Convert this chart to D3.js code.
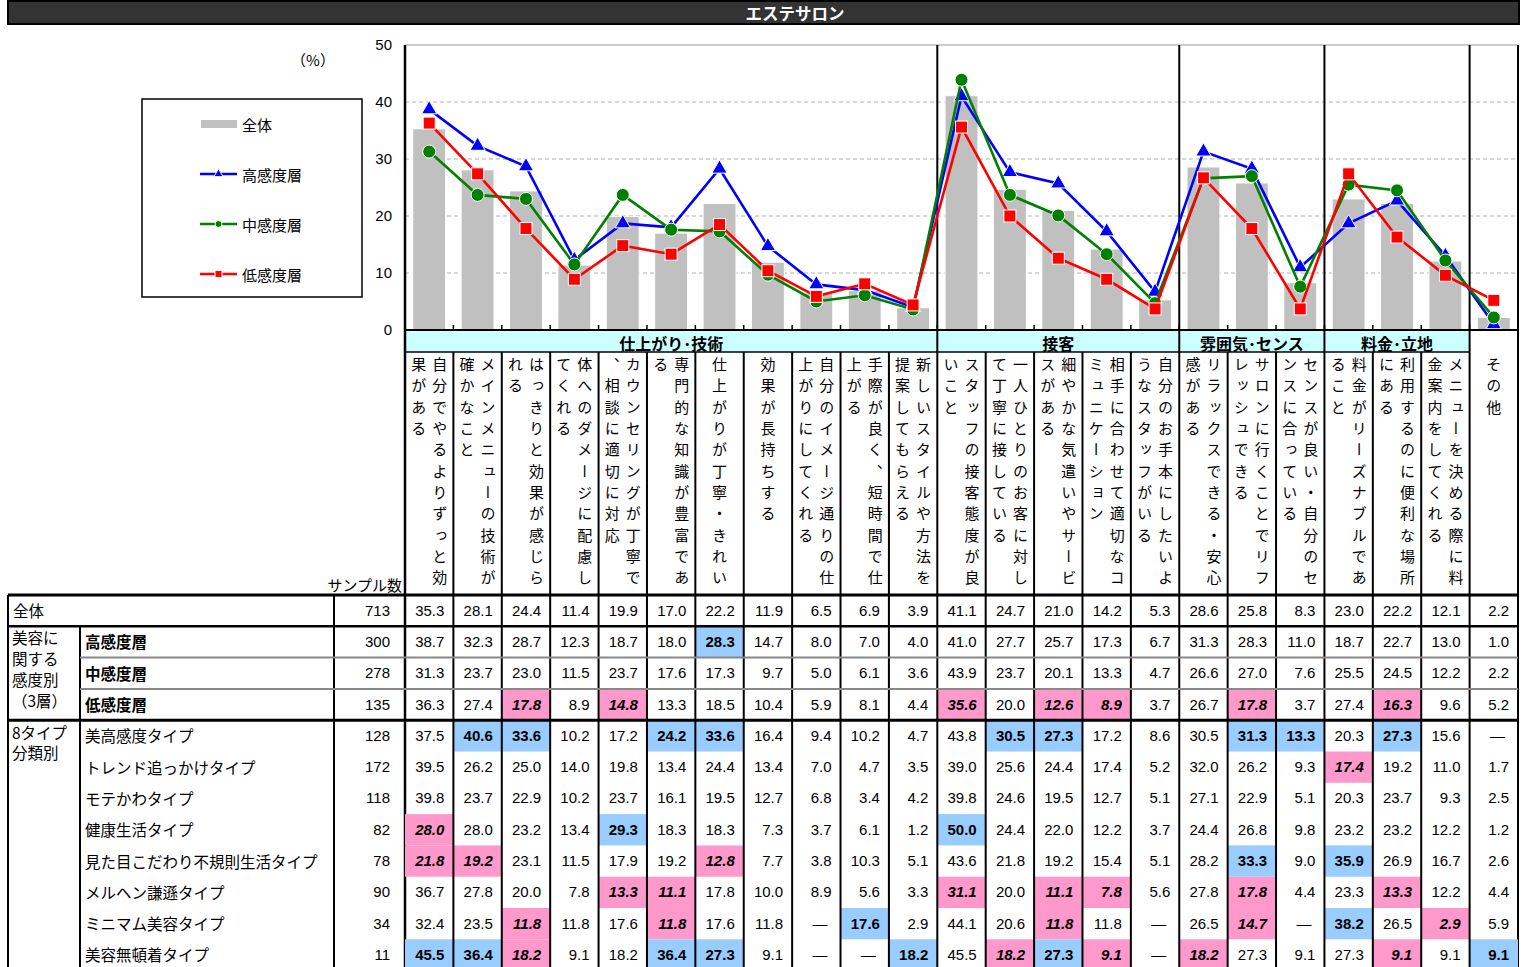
<!DOCTYPE html>
<html><head><meta charset="utf-8">
<script src="https://cdn.jsdelivr.net/npm/d3@7"></script>
<style>
body{margin:0;background:#fff}
svg text{font-family:"Noto Sans CJK JP","Noto Sans",sans-serif;fill:#000}
.num{font-family:"Liberation Sans",Arial,sans-serif}
</style>
</head><body><svg id="c" width="1525" height="967"></svg>
<script>
// ---------------- DATA ----------------
const title = "エステサロン";
const categories = [
  "自分でやるよりずっと効果がある","メインメニューの技術が確かなこと","はっきりと効果が感じられる",
  "体へのダメージに配慮してくれる","カウンセリングが丁寧で、相談に適切に対応","専門的な知識が豊富である",
  "仕上がりが丁寧・きれい","効果が長持ちする","自分のイメージ通りの仕上がりにしてくれる",
  "手際が良く、短時間で仕上がる","新しいスタイルや方法を提案してもらえる",
  "スタッフの接客態度が良いこと","一人ひとりのお客に対して丁寧に接している","細やかな気遣いやサービスがある",
  "相手に合わせて適切なコミュニケーション","自分のお手本にしたいようなスタッフがいる",
  "リラックスできる・安心感がある","サロンに行くことでリフレッシュできる","センスが良い・自分のセンスに合っている",
  "料金がリーズナブルであること","利用するのに便利な場所にある","メニューを決める際に料金案内をしてくれる",
  "その他"
];
const groupNames = ["仕上がり･技術","接客","雰囲気･センス","料金･立地",""];
const groupSizes = [11,5,3,3,1];
const yTicks = [0,10,20,30,40,50];
const seriesNames = ["全体","高感度層","中感度層","低感度層"];

const total = [35.3,28.1,24.4,11.4,19.9,17.0,22.2,11.9,6.5,6.9,3.9,41.1,24.7,21.0,14.2,5.3,28.6,25.8,8.3,23.0,22.2,12.1,2.2];
const high  = [38.7,32.3,28.7,12.3,18.7,18.0,28.3,14.7,8.0,7.0,4.0,41.0,27.7,25.7,17.3,6.7,31.3,28.3,11.0,18.7,22.7,13.0,1.0];
const mid   = [31.3,23.7,23.0,11.5,23.7,17.6,17.3,9.7,5.0,6.1,3.6,43.9,23.7,20.1,13.3,4.7,26.6,27.0,7.6,25.5,24.5,12.2,2.2];
const low   = [36.3,27.4,17.8,8.9,14.8,13.3,18.5,10.4,5.9,8.1,4.4,35.6,20.0,12.6,8.9,3.7,26.7,17.8,3.7,27.4,16.3,9.6,5.2];
const typeBiKoukando = [37.5,40.6,33.6,10.2,17.2,24.2,33.6,16.4,9.4,10.2,4.7,43.8,30.5,27.3,17.2,8.6,30.5,31.3,13.3,20.3,27.3,15.6,null];
const typeTrend      = [39.5,26.2,25.0,14.0,19.8,13.4,24.4,13.4,7.0,4.7,3.5,39.0,25.6,24.4,17.4,5.2,32.0,26.2,9.3,17.4,19.2,11.0,1.7];
const typeMotekawa   = [39.8,23.7,22.9,10.2,23.7,16.1,19.5,12.7,6.8,3.4,4.2,39.8,24.6,19.5,12.7,5.1,27.1,22.9,5.1,20.3,23.7,9.3,2.5];
const typeKenkou     = [28.0,28.0,23.2,13.4,29.3,18.3,18.3,7.3,3.7,6.1,1.2,50.0,24.4,22.0,12.2,3.7,24.4,26.8,9.8,23.2,23.2,12.2,1.2];
const typeMitame     = [21.8,19.2,23.1,11.5,17.9,19.2,12.8,7.7,3.8,10.3,5.1,43.6,21.8,19.2,15.4,5.1,28.2,33.3,9.0,35.9,26.9,16.7,2.6];
const typeMeruhen    = [36.7,27.8,20.0,7.8,13.3,11.1,17.8,10.0,8.9,5.6,3.3,31.1,20.0,11.1,7.8,5.6,27.8,17.8,4.4,23.3,13.3,12.2,4.4];
const typeMinimum    = [32.4,23.5,11.8,11.8,17.6,11.8,17.6,11.8,null,17.6,2.9,44.1,20.6,11.8,11.8,null,26.5,14.7,null,38.2,26.5,2.9,5.9];
const typeMutonjaku  = [45.5,36.4,18.2,9.1,18.2,36.4,27.3,9.1,null,null,18.2,45.5,18.2,27.3,9.1,null,18.2,27.3,9.1,27.3,9.1,9.1,9.1];

const rowLabels = ["全体","高感度層","中感度層","低感度層","美高感度タイプ","トレンド追っかけタイプ","モテかわタイプ",
  "健康生活タイプ","見た目こだわり不規則生活タイプ","メルヘン謙遜タイプ","ミニマム美容タイプ","美容無頓着タイプ"];
const sampleSizes = [713,300,278,135,128,172,118,82,78,90,34,11];
const rowValues = [total,high,mid,low,typeBiKoukando,typeTrend,typeMotekawa,typeKenkou,typeMitame,typeMeruhen,typeMinimum,typeMutonjaku];
// highlighted cells (column indexes): higher (blue) / lower (pink)
const highCells = [[],[6],[],[],[1,2,5,6,12,13,17,18,20],[],[],[4,11],[17,19],[],[9,19],[0,1,5,6,10,13,22]];
const lowCells  = [[],[],[],[2,4,11,13,14,17,20],[],[19],[],[0],[0,1,6],[4,5,11,13,14,17,20],[2,5,13,17,21],[2,12,14,16,20]];
const groupLabel1 = ["美容に","関する","感度別","（3層）"];
const groupLabel2 = ["8タイプ","分類別"];

// ---------------- LAYOUT ----------------
const svg = d3.select("#c");
const X0 = 405, X1 = 1518, YT = 45, YB = 330;
const n = categories.length;
const x = d3.scaleBand().domain(d3.range(n)).range([X0, X1]).paddingInner(0.32).paddingOuter(0.16);
const step = x.step();
const cx = i => x(i) + x.bandwidth()/2;
const bnd = i => X0 + i*step;
const y = d3.scaleLinear().domain([0,50]).range([YB, YT]);

const HEAD_T = 331, HEAD_B = 352, LAB_B = 594;
const TAB_T = 595, ROW_H = 31.3;
const rowTop = i => TAB_T + i*ROW_H;

// title
svg.append("rect").attr("x",8).attr("y",1).attr("width",1511).attr("height",23)
  .attr("fill","#333").attr("stroke","#000").attr("stroke-width",2);
svg.append("text").attr("x",795).attr("y",13).attr("text-anchor","middle").attr("dominant-baseline","central")
  .style("font-size","16.5px").style("font-weight","bold").style("fill","#fff").text(title);

// chart frame
svg.append("rect").attr("x",X0).attr("y",YT).attr("width",X1-X0).attr("height",YB-YT)
  .attr("fill","#fff").attr("stroke","#999").attr("stroke-width",1);

// grid
svg.append("g").selectAll("line").data(yTicks.filter(d=>d>0&&d<50)).join("line")
  .attr("x1",X0).attr("x2",X1).attr("y1",d=>y(d)).attr("y2",d=>y(d))
  .attr("stroke","#b0b0b0").attr("stroke-dasharray","4,3").attr("stroke-width",1);

// y axis
const yAxis = svg.append("g").attr("transform",`translate(${X0},0)`)
  .call(d3.axisLeft(y).tickValues(yTicks).tickSize(0).tickPadding(13));
yAxis.select(".domain").remove();
yAxis.selectAll("text").attr("class","num").style("font-size","15px").style("font-family","'Liberation Sans',Arial,sans-serif");
svg.append("text").attr("x",313).attr("y",59).attr("text-anchor","middle").attr("dominant-baseline","central")
  .style("font-size","15px").text("（%）");

// bars
svg.append("g").selectAll("rect").data(total).join("rect")
  .attr("x",(d,i)=>x(i)).attr("width",x.bandwidth())
  .attr("y",d=>y(d)).attr("height",d=>y(0)-y(d))
  .attr("fill","#c0c0c0").attr("stroke","#fff").attr("stroke-width",1);

// bottom ticks
svg.append("g").selectAll("line").data(d3.range(1,n)).join("line")
  .attr("x1",i=>bnd(i)).attr("x2",i=>bnd(i)).attr("y1",YB).attr("y2",YB-5)
  .attr("stroke","#000").attr("stroke-width",1.5);

// group boundaries
const groupEnds = d3.cumsum(groupSizes);
svg.append("g").selectAll("line").data(Array.from(groupEnds).slice(0,-1)).join("line")
  .attr("x1",e=>bnd(e)).attr("x2",e=>bnd(e)).attr("y1",YT).attr("y2",YB)
  .attr("stroke","#000").attr("stroke-width",2);

// axis lines
svg.append("line").attr("x1",X0).attr("x2",X0).attr("y1",YT).attr("y2",HEAD_T).attr("stroke","#000").attr("stroke-width",2.5);

// lines + markers
const series = [
  {name:"高感度層", vals:high, color:"#0000ff", shape:"tri"},
  {name:"中感度層", vals:mid,  color:"#008000", shape:"circle"},
  {name:"低感度層", vals:low,  color:"#ff0000", shape:"square"}
];
function marker(g, shape, color, px, py, s){
  if(shape==="tri"){
    g.append("path").attr("d",d3.symbol(d3.symbolTriangle, s*s*0.45)())
      .attr("transform",`translate(${px},${py})`).attr("fill",color).attr("stroke","#fff").attr("stroke-width",1);
  } else if(shape==="circle"){
    g.append("circle").attr("cx",px).attr("cy",py).attr("r",s/2).attr("fill",color).attr("stroke","#fff").attr("stroke-width",1);
  } else {
    g.append("rect").attr("x",px-s/2).attr("y",py-s/2).attr("width",s).attr("height",s).attr("fill",color).attr("stroke","#fff").attr("stroke-width",1);
  }
}
const line = d3.line().x((d,i)=>cx(i)).y(d=>y(d));
series.forEach(s=>{
  const g = svg.append("g");
  g.append("path").datum(s.vals).attr("d",line).attr("fill","none").attr("stroke",s.color).attr("stroke-width",2.6);
  s.vals.forEach((v,i)=>marker(g,s.shape,s.color,cx(i),y(v),s.shape==="square"?12:(s.shape==="circle"?13:15)));
});

// legend
const lg = svg.append("g");
lg.append("rect").attr("x",142).attr("y",99).attr("width",220).attr("height",198).attr("fill","#fff").attr("stroke","#000").attr("stroke-width",1.5);
const legY = [124,174,224,274];
lg.append("rect").attr("x",201).attr("y",legY[0]-4).attr("width",36).attr("height",8).attr("fill","#c0c0c0");
series.forEach((s,k)=>{
  const ly = legY[k+1];
  lg.append("line").attr("x1",200).attr("x2",237).attr("y1",ly).attr("y2",ly).attr("stroke",s.color).attr("stroke-width",2.5);
  marker(lg,s.shape,s.color,218.5,ly,s.shape==="tri"?9:7);
});
seriesNames.forEach((nm,k)=>{
  lg.append("text").attr("x",242).attr("y",legY[k]).attr("dominant-baseline","central").style("font-size","15px").text(nm);
});

// ---------------- HEADER (group row + vertical labels) ----------------
const groupStarts = [0, ...Array.from(groupEnds).slice(0,-1)];
groupNames.forEach((g,k)=>{
  if(!g) return;
  const a = bnd(groupStarts[k]), b = bnd(groupEnds[k]);
  svg.append("rect").attr("x",a).attr("y",HEAD_T).attr("width",b-a).attr("height",HEAD_B-HEAD_T).attr("fill","#ccffff");
  svg.append("text").attr("x",(a+b)/2).attr("y",(HEAD_T+HEAD_B)/2+1).attr("text-anchor","middle").attr("dominant-baseline","central")
    .style("font-size","16px").style("font-weight","bold").text(g);
});
// x axis line
svg.append("line").attr("x1",X0).attr("x2",X1).attr("y1",YB).attr("y2",YB).attr("stroke","#000").attr("stroke-width",2);
svg.append("line").attr("x1",X0).attr("x2",bnd(groupEnds[groupEnds.length-2])).attr("y1",HEAD_B).attr("y2",HEAD_B).attr("stroke","#000").attr("stroke-width",1.5);
// column lines in label area
svg.append("g").selectAll("line").data(d3.range(1,n)).join("line")
  .attr("x1",i=>bnd(i)).attr("x2",i=>bnd(i)).attr("y1",HEAD_B).attr("y2",LAB_B)
  .attr("stroke","#000").attr("stroke-width",2);
svg.append("g").selectAll("line").data(Array.from(groupEnds).slice(0,-1)).join("line")
  .attr("x1",e=>bnd(e)).attr("x2",e=>bnd(e)).attr("y1",YB).attr("y2",HEAD_B)
  .attr("stroke","#000").attr("stroke-width",2);
svg.append("line").attr("x1",X1).attr("x2",X1).attr("y1",YT).attr("y2",967).attr("stroke","#000").attr("stroke-width",2);
svg.append("line").attr("x1",X0).attr("x2",X0).attr("y1",HEAD_T).attr("y2",967).attr("stroke","#000").attr("stroke-width",2.5);

// vertical category labels
const PER = 11;
categories.forEach((c,i)=>{
  const chars = Array.from(c);
  const lines = [];
  for(let k=0;k<chars.length;k+=PER) lines.push(chars.slice(k,k+PER).join(""));
  lines.forEach((ln,j)=>{
    const off = lines.length===1 ? 0 : (j===0 ? 10.5 : -10.5);
    svg.append("text").attr("x",cx(i)+off).attr("y",357)
      .style("writing-mode","vertical-rl").style("font-size","15px").style("letter-spacing","6.3px")
      .text(ln);
  });
});

svg.append("text").attr("x",402).attr("y",584).attr("text-anchor","end").attr("dominant-baseline","central")
  .style("font-size","15px").text("サンプル数");

// ---------------- TABLE ----------------
const tg = svg.append("g");
// highlight cells
rowValues.forEach((vals,r)=>{
  highCells[r].forEach(c=>tg.append("rect").attr("x",bnd(c)).attr("y",rowTop(r)).attr("width",step).attr("height",ROW_H).attr("fill","#99ccff"));
  lowCells[r].forEach(c=>tg.append("rect").attr("x",bnd(c)).attr("y",rowTop(r)).attr("width",step).attr("height",ROW_H).attr("fill","#ff99cc"));
});
// values
rowValues.forEach((vals,r)=>{
  const cy = rowTop(r)+ROW_H/2-0.5;
  vals.forEach((v,c)=>{
    const isH = highCells[r].includes(c), isL = lowCells[r].includes(c);
    const t = tg.append("text").attr("class","num")
      .attr("x", v===null ? bnd(c+1)-13 : bnd(c+1)-9)
      .attr("y",cy).attr("text-anchor","end").attr("dominant-baseline","central")
      .style("font-size","15px").style("font-family","'Liberation Sans',Arial,sans-serif")
      .text(v===null ? "—" : v.toFixed(1));
    if(isH||isL) t.style("font-weight","bold");
    if(isL) t.style("font-style","italic");
  });
  tg.append("text").attr("class","num").attr("x",390).attr("y",cy).attr("text-anchor","end")
    .attr("dominant-baseline","central").style("font-size","15px").style("font-family","'Liberation Sans',Arial,sans-serif")
    .text(sampleSizes[r]);
  const lt = tg.append("text").attr("x", r===0 ? 13 : 85).attr("y",cy).attr("dominant-baseline","central")
    .style("font-size","15.5px").text(rowLabels[r]);
  if(r>=1 && r<=3) lt.style("font-weight","bold");
});
groupLabel1.forEach((t,k)=>tg.append("text").attr("x",12).attr("y",rowTop(1)+11+k*21).attr("dominant-baseline","central").style("font-size","15.5px").text(t));
groupLabel2.forEach((t,k)=>tg.append("text").attr("x",12).attr("y",rowTop(4)+12+k*20).attr("dominant-baseline","central").style("font-size","15.5px").text(t));

// table lines
const colXs = d3.range(1,n).map(bnd);
tg.selectAll("line.col").data(colXs).join("line")
  .attr("x1",d=>d).attr("x2",d=>d).attr("y1",TAB_T).attr("y2",967).attr("stroke","#000").attr("stroke-width",2);
tg.append("line").attr("x1",334).attr("x2",334).attr("y1",TAB_T).attr("y2",967).attr("stroke","#000").attr("stroke-width",2);
tg.append("line").attr("x1",80).attr("x2",80).attr("y1",rowTop(1)).attr("y2",967).attr("stroke","#000").attr("stroke-width",2);
tg.append("line").attr("x1",8).attr("x2",8).attr("y1",TAB_T).attr("y2",967).attr("stroke","#000").attr("stroke-width",2);
[rowTop(0),rowTop(1),rowTop(4)].forEach((yy,k)=>tg.append("line").attr("x1",8).attr("x2",X1+1).attr("y1",yy).attr("y2",yy)
  .attr("stroke","#000").attr("stroke-width",k===1?2.5:3));
[rowTop(2),rowTop(3)].forEach(yy=>tg.append("line").attr("x1",80).attr("x2",X1).attr("y1",yy).attr("y2",yy)
  .attr("stroke","#888").attr("stroke-width",2));
</script>
</body></html>
